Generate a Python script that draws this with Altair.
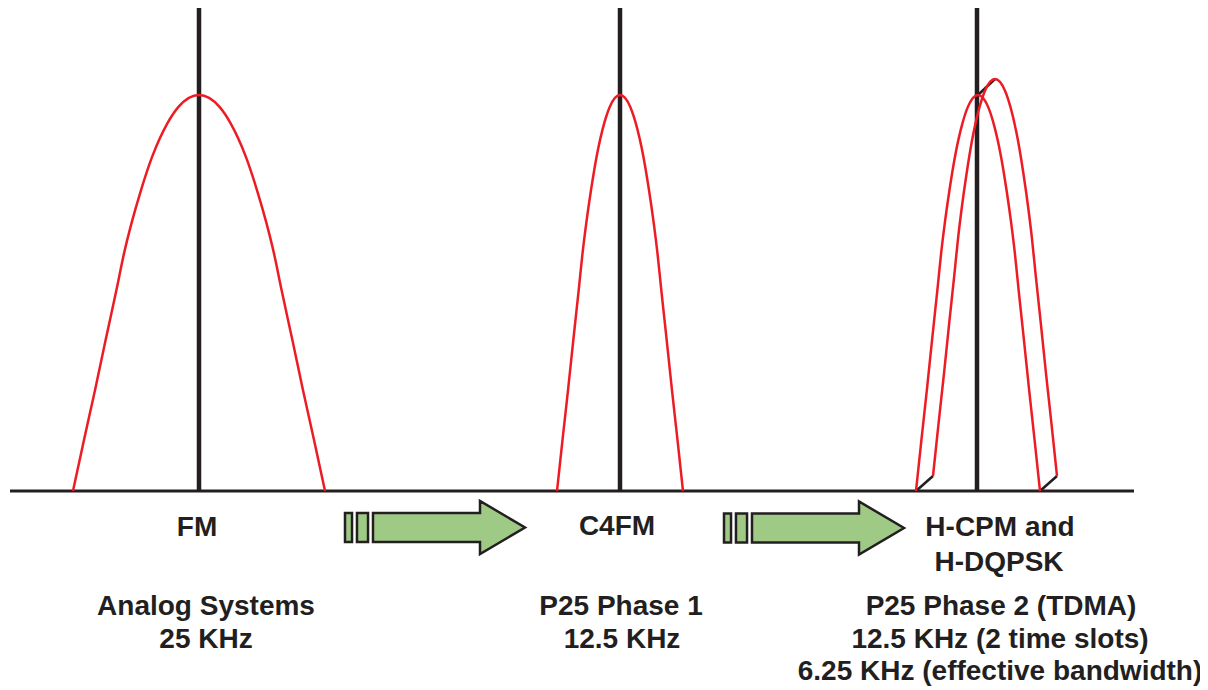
import altair as alt
import pandas as pd

# ---------------- data ----------------
# normalized spectral envelope:
# level (fraction of peak) and offset from carrier (fraction of half-bandwidth)
env_level_half = [0.0, 0.13, 0.255, 0.38, 0.508, 0.6, 0.677, 0.76, 0.843, 0.929, 0.97, 1.0]
env_offset_half = [1.0, 0.912, 0.825, 0.742, 0.655, 0.595, 0.535, 0.46, 0.373, 0.25, 0.163, 0.0]

env_offset = [-o for o in env_offset_half] + [o for o in env_offset_half[-2::-1]]
env_level = env_level_half + env_level_half[-2::-1]

sig_name = ["FM", "C4FM", "Phase2 A", "Phase2 B"]
sig_center = [199, 620, 978, 995]
sig_halfwidth = [126, 63, 62, 62]
sig_peak = [396, 396, 396, 397]
sig_floor = [0, 0, 0, 15]

carrier_x = [199, 620, 977]
carrier_top = [483, 483, 483]

axis_start = [10]
axis_end = [1134]

link_x = [916, 1040, 978]
link_x2 = [933, 1057, 995]
link_y = [0, 0, 396]
link_y2 = [15, 15, 412]

arrow_x = [435, 814]
arrow_y = [-36.5, -37.0]

label_text = ["FM", "Analog Systems", "25 KHz",
              "C4FM", "P25 Phase 1", "12.5 KHz",
              "H-CPM and", "H-DQPSK", "P25 Phase 2 (TDMA)",
              "12.5 KHz (2 time slots)", "6.25 KHz (effective bandwidth)"]
label_x = [197, 206, 206,
           617, 621, 622,
           1000, 999, 1001,
           1000, 1000]
label_y = [-45, -124, -157,
           -44, -124, -157,
           -45, -80, -124,
           -157, -189]

# ---------------- tables ----------------
rows = []
for n, c, hw, pk, fl in zip(sig_name, sig_center, sig_halfwidth, sig_peak, sig_floor):
    for i, (o, l) in enumerate(zip(env_offset, env_level)):
        rows.append({"sig": n, "i": i, "x": c + o * hw, "a": fl + l * pk})
curves = pd.DataFrame(rows)

carriers = pd.DataFrame({"x": carrier_x, "top": carrier_top, "base": [0] * len(carrier_x)})
axis_df = pd.DataFrame({"x": axis_start, "x2": axis_end, "a": [0]})
links = pd.DataFrame({"x": link_x, "x2": link_x2, "a": link_y, "a2": link_y2})
arrows = pd.DataFrame({"x": arrow_x, "a": arrow_y})
labels = pd.DataFrame({"t": label_text, "x": label_x, "a": label_y})

xs = alt.Scale(domain=[8, 1200], nice=False, zero=False)
ys = alt.Scale(domain=[-199, 483], nice=False, zero=False)

DARK = "#231f20"
RED = "#ed1c24"
GREEN = "#9fca85"

X = lambda f: alt.X(f, type="quantitative", scale=xs, axis=None)
Y = lambda f: alt.Y(f, type="quantitative", scale=ys, axis=None)

axis_line = alt.Chart(axis_df).mark_rule(color=DARK, strokeWidth=3).encode(
    x=X("x"), x2="x2", y=Y("a"))

carrier_lines = alt.Chart(carriers).mark_rule(color=DARK, strokeWidth=4.5).encode(
    x=X("x"), y=Y("base"), y2="top")

link_lines = alt.Chart(links).mark_rule(color=DARK, strokeWidth=2.5).encode(
    x=X("x"), x2="x2", y=Y("a"), y2="a2")

curve_lines = alt.Chart(curves).mark_line(color=RED, strokeWidth=2.5, interpolate="monotone").encode(
    x=X("x"), y=Y("a"), detail="sig:N", order="i:Q")

arrow_path = ("M-1,-0.161 L-0.922,-0.161 L-0.922,0.161 L-1,0.161 Z "
              "M-0.867,-0.161 L-0.744,-0.161 L-0.744,0.161 L-0.867,0.161 Z "
              "M-0.689,-0.161 L0.5,-0.161 L0.5,-0.295 L1,0 L0.5,0.295 L0.5,0.161 L-0.689,0.161 Z")
arrow_marks = alt.Chart(arrows).mark_point(
    shape=arrow_path, size=180 * 180, filled=True, fill=GREEN, stroke=DARK,
    strokeWidth=2.5, opacity=1, fillOpacity=1, strokeJoin="miter").encode(
    x=X("x"), y=Y("a"))

text_marks = alt.Chart(labels).mark_text(
    font="Liberation Sans", fontWeight="bold", fontSize=28, color=DARK,
    align="center", baseline="alphabetic").encode(
    x=X("x"), y=Y("a"), text="t:N")

chart = alt.layer(axis_line, carrier_lines, link_lines, curve_lines, arrow_marks, text_marks).properties(
    width=1192, height=682, padding=0, autosize="none", background="white"
).configure_view(stroke=None)

chart.save("out.html", embed_options={"renderer": "svg", "actions": False})
